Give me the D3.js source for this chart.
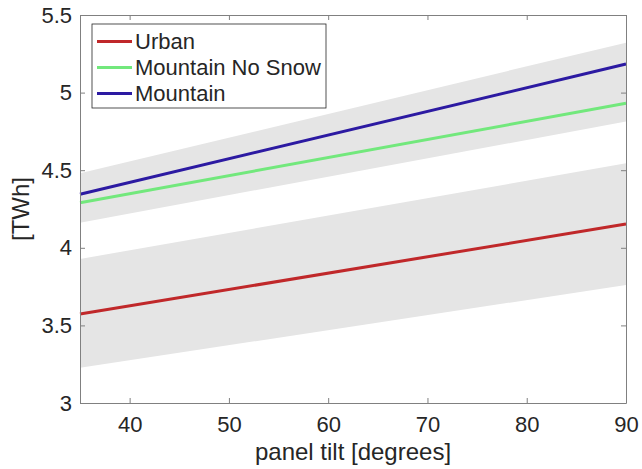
<!DOCTYPE html>
<html>
<head>
<meta charset="utf-8">
<script src="https://cdn.jsdelivr.net/npm/d3@7"></script>
<style>
  body { margin: 0; background: #fff; }
  text { font-family: "Liberation Sans", Arial, Helvetica, sans-serif; fill: #262626; }
</style>
</head>
<body>
<div id="chart"></div>
<script>
// data: values at tilt 35 and 90
const tilt = [35, 90];
const urban = [3.573, 4.153];
const mountainNoSnow = [4.29, 4.931];
const mountain = [4.345, 5.184];
const urbanBandLow = [3.227, 3.760];
const urbanBandHigh = [3.928, 4.544];
const mountainBandLow = [4.162, 4.813];
const mountainBandHigh = [4.48, 5.322];
const xTicks = [40, 50, 60, 70, 80, 90];
const yTicks = [3, 3.5, 4, 4.5, 5, 5.5];

const series = [
  {name: "Urban", values: urban, color: "#c0282a"},
  {name: "Mountain No Snow", values: mountainNoSnow, color: "#72e87c"},
  {name: "Mountain", values: mountain, color: "#2c1aa2"}
];
const bands = [
  {low: urbanBandLow, high: urbanBandHigh},
  {low: mountainBandLow, high: mountainBandHigh}
];

const margin = {top: 15, right: 16, bottom: 66, left: 80},
    width = 642 - margin.left - margin.right,
    height = 469 - margin.top - margin.bottom;

const svg = d3.select("#chart")
    .append("svg")
    .attr("width", 642)
    .attr("height", 469)
    .append("g")
    .attr("transform", `translate(${margin.left},${margin.top})`);

const x = d3.scaleLinear().domain([35, 90]).range([0, width]);
const y = d3.scaleLinear().domain([3, 5.5]).range([height, 0]);

// shaded bands
bands.forEach(function(b) {
  svg.append("path")
      .datum(tilt.map(function(t, i) { return {t: t, lo: b.low[i], hi: b.high[i]}; }))
      .attr("fill", "#e5e5e5")
      .attr("d", d3.area()
          .x(function(d) { return x(d.t); })
          .y0(function(d) { return y(d.lo); })
          .y1(function(d) { return y(d.hi); }));
});

// lines
series.forEach(function(s) {
  svg.append("path")
      .datum(tilt.map(function(t, i) { return {t: t, v: s.values[i]}; }))
      .attr("fill", "none")
      .attr("stroke", s.color)
      .attr("stroke-width", 3)
      .attr("d", d3.line()
          .x(function(d) { return x(d.t); })
          .y(function(d) { return y(d.v); }));
});

// axes, ticks inward on all four sides
function styleAxis(g) {
  g.select(".domain").attr("stroke", "#808080");
  g.selectAll(".tick line").attr("stroke", "#808080");
  g.selectAll("text").attr("font-size", 22).attr("fill", "#262626")
      .attr("font-family", "'Liberation Sans', Arial, sans-serif");
}
svg.append("g")
    .attr("transform", `translate(0,${height})`)
    .call(d3.axisBottom(x).tickValues(xTicks).tickSize(-5).tickSizeOuter(0).tickPadding(13))
    .call(styleAxis);
svg.append("g")
    .call(d3.axisTop(x).tickValues(xTicks).tickSize(-5).tickSizeOuter(0).tickFormat(""))
    .call(styleAxis);
svg.append("g")
    .call(d3.axisLeft(y).tickValues(yTicks).tickSize(-5).tickSizeOuter(0).tickPadding(8).tickFormat(d3.format("")))
    .call(styleAxis);
svg.append("g")
    .attr("transform", `translate(${width},0)`)
    .call(d3.axisRight(y).tickValues(yTicks).tickSize(-5).tickSizeOuter(0).tickFormat(""))
    .call(styleAxis);

// axis labels
svg.append("text")
    .attr("x", width / 2)
    .attr("y", height + 57)
    .attr("text-anchor", "middle")
    .attr("font-size", 24)
    .text("panel tilt [degrees]");
svg.append("text")
    .attr("transform", `translate(${-51},${height / 2}) rotate(-90)`)
    .attr("text-anchor", "middle")
    .attr("font-size", 24)
    .text("[TWh]");

// legend
const legend = svg.append("g").attr("transform", "translate(12,9)");
legend.append("rect")
    .attr("width", 234)
    .attr("height", 84)
    .attr("fill", "#fff")
    .attr("stroke", "#262626")
    .attr("stroke-width", 0.8);
series.forEach(function(s, i) {
  const row = legend.append("g").attr("transform", `translate(0,${17.5 + i * 26})`);
  row.append("line")
      .attr("x1", 5).attr("x2", 40)
      .attr("stroke", s.color)
      .attr("stroke-width", 3);
  row.append("text")
      .attr("x", 43)
      .attr("dy", "0.35em")
      .attr("font-size", 22)
      .text(s.name);
});
</script>
</body>
</html>
